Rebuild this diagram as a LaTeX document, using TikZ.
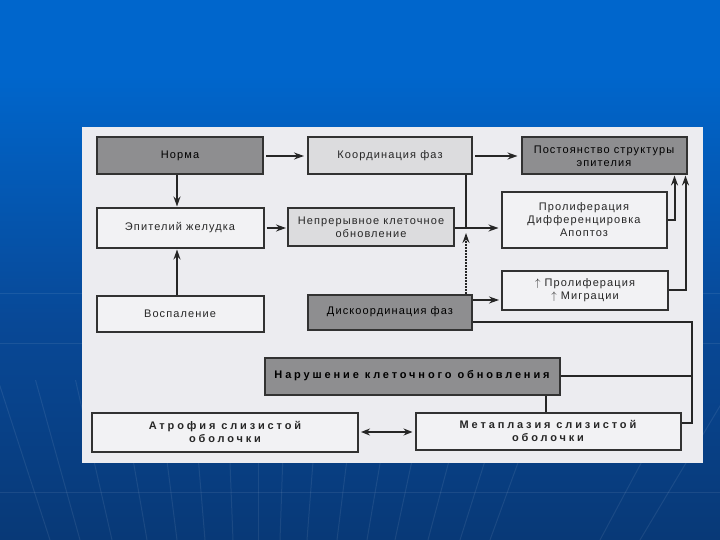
\documentclass[tikz,border=0pt]{standalone}
\usepackage{fontspec}
\setmainfont{Liberation Sans}
\usetikzlibrary{arrows.meta}

\definecolor{slidetop}{RGB}{0,102,204}
\definecolor{slidemid}{RGB}{8,72,150}
\definecolor{slidebot}{RGB}{8,38,80}
\definecolor{panel}{RGB}{236,236,240}
\definecolor{boxlight}{RGB}{242,242,244}
\definecolor{boxgrey}{RGB}{220,220,222}
\definecolor{boxdark}{RGB}{142,142,144}
\definecolor{boxline}{RGB}{50,50,50}

\pgfdeclareverticalshading{slide}{100bp}{color(0bp)=(slidebot); color(45bp)=(slidemid); color(68bp)=(slidetop); color(100bp)=(slidetop)}

\tikzset{
  box/.style={draw=boxline, line width=2pt, fill=boxlight, text=black!85, align=center,
    inner sep=0pt, font=\fontsize{11}{13}\selectfont\addfontfeature{LetterSpace=10}},
  greybox/.style={box, fill=boxgrey},
  darkbox/.style={box, fill=boxdark, text=black},
  boldbox/.style={font=\fontsize{11}{13}\selectfont\bfseries\addfontfeature{LetterSpace=26}},
  arr/.style={-{Stealth[length=10pt,width=7pt]}, line width=2pt, draw=black!85},
  link/.style={line width=2pt, draw=black!85},
  faint/.style={draw=white, opacity=0.08, line width=1pt}
}

\begin{document}
\begin{tikzpicture}[x=1pt,y=-1pt]
\useasboundingbox (0,0) rectangle (720,540);
\begin{scope}[y=1pt]
  \shade[shading=slide] (0,0) rectangle (720,-540);
\end{scope}
\foreach \b in {50, 80, 112, 147, 177, 205, 233, 258, 280, 307, 337, 367, 395, 428, 460, 490, 600, 640}{
  \pgfmathsetmacro\t{258+(\b-258)*1.25}
  \draw[faint] (\t,380) -- (\b,540);
}
\foreach \h in {293, 343, 492}
  \draw[faint] (0,\h) -- (720,\h);

\fill[panel] (82,127) rectangle (703,463);

% top row
\node[darkbox, minimum width=166pt, minimum height=37pt] (norm) at (180,156) {Норма};
\node[greybox, minimum width=164pt, minimum height=37pt] (coord) at (390,156) {Координация фаз};
\node[darkbox, minimum width=165pt, minimum height=37pt] (const) at (604,156) {Постоянство структуры\\эпителия};
% second row
\node[box, minimum width=167pt, minimum height=39pt] (epit) at (180,228) {Эпителий желудка};
\node[greybox, minimum width=166pt, minimum height=38pt] (renew) at (371,227) {Непрерывное клеточное\\обновление};
\node[box, minimum width=165pt, minimum height=56pt] (prolif) at (584,220) {Пролиферация\\Дифференцировка\\Апоптоз};
% third row
\node[box, minimum width=167pt, minimum height=36pt] (infl) at (180,314) {Воспаление};
\node[darkbox, minimum width=164pt, minimum height=35pt] (discoord) at (390,312) {Дискоординация фаз};
\node[box, minimum width=166pt, minimum height=39pt] (migr) at (585,290) {$\uparrow$ Пролиферация\\$\uparrow$ Миграции};
% bottom
\node[darkbox, boldbox, minimum width=295pt, minimum height=37pt] (fail) at (412,376) {Нарушение клеточного обновления};
\node[box, boldbox, minimum width=266pt, minimum height=39pt] (atroph) at (225,432) {Атрофия слизистой\\оболочки};
\node[box, boldbox, minimum width=265pt, minimum height=37pt] (metapl) at (548,431) {Метаплазия слизистой\\оболочки};

\coordinate (join) at (466,228);
\coordinate (dtip) at (466,233);
\coordinate (rside) at (692,322);

\draw[arr, shorten <=2pt, shorten >=3pt] (norm) -- (coord);
\draw[arr, shorten >=1pt] (norm.south -| 177,0) -- (epit.north -| 177,0);
\draw[arr, shorten >=1pt] (infl.north -| 177,0) -- (epit.south -| 177,0);
\draw[arr, shorten <=2pt, shorten >=1pt] (epit) -- (epit -| renew.west);
\draw[arr, shorten <=2pt, shorten >=3pt] (coord) -- (const);
\draw[arr, shorten >=2pt] (renew.east |- join) -- (join -| prolif.west);
\draw[link] (coord.south -| join) -- (join);
\draw[arr, densely dotted] (discoord.north -| dtip) -- (dtip);
\draw[arr] (prolif.east) -| ([xshift=-13pt]const.south east);
\draw[arr] (migr.east) -| ([xshift=-2pt]const.south east);
\draw[arr, shorten >=2pt] ([yshift=12pt]discoord.east) -- ([yshift=12pt]discoord.east -| migr.west);
\draw[link] ([yshift=-10pt]discoord.east) -- (rside) |- ([yshift=8pt]metapl.east);
\draw[link] (fail.east) -- (fail.east -| rside);
\draw[link] (fail.south -| 546,0) -- (metapl.north -| 546,0);
\draw[{Stealth[length=9pt,width=7pt]}-{Stealth[length=9pt,width=7pt]}, link, shorten <=2pt, shorten >=2pt] (atroph.east) -- (atroph.east -| metapl.west);
\end{tikzpicture}
\end{document}
